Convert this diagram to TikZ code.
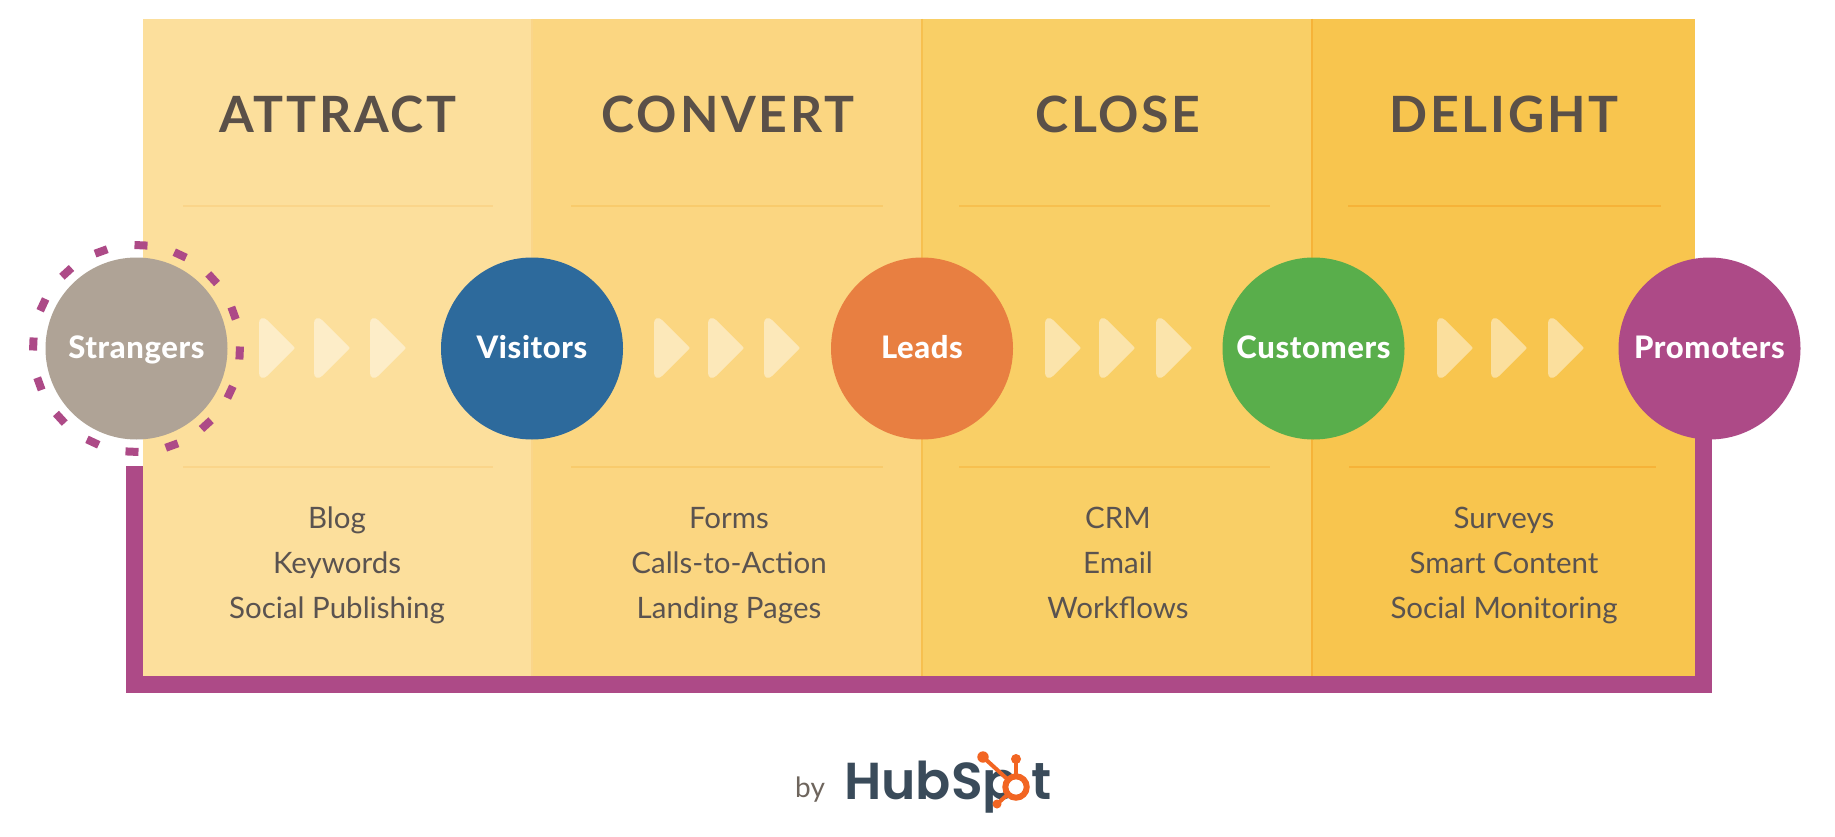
\documentclass[tikz,border=0pt]{standalone}
\usepackage{fontspec}
\setmainfont{Lato}
\newfontfamily\logofont{Poppins SemiBold}
\newfontfamily\headfont{Lato}[LetterSpace=5.5]
\newfontfamily\stagefont{Lato Heavy}[LetterSpace=2]
\usetikzlibrary{backgrounds}
\definecolor{panelA}{HTML}{FCDF9C}
\definecolor{panelB}{HTML}{FBD681}
\definecolor{panelC}{HTML}{F9CF66}
\definecolor{panelD}{HTML}{F8C54E}
\definecolor{ruleA}{HTML}{FAD58A}
\definecolor{ruleB}{HTML}{F8CB6C}
\definecolor{ruleC}{HTML}{F7C04F}
\definecolor{ruleD}{HTML}{F6B338}
\definecolor{plum}{HTML}{AD4A87}
\definecolor{stone}{HTML}{AFA396}
\definecolor{sea}{HTML}{2D6A9C}
\definecolor{tang}{HTML}{E87F41}
\definecolor{leaf}{HTML}{59AE4B}
\definecolor{headink}{HTML}{5A5048}
\definecolor{listink}{HTML}{5A5350}
\definecolor{hubink}{HTML}{3A4B5A}
\definecolor{huborange}{HTML}{F26522}
\definecolor{byink}{HTML}{6E655D}
\tikzset{
  x=1pt,y=-1pt,
  stage/.style={circle,minimum size=182pt,inner sep=0pt,text=white,text height=20pt,text depth=-2pt,font=\fontsize{31}{31}\selectfont\stagefont},
  heading/.style={anchor=base,inner sep=0pt,text=headink,font=\fontsize{50}{50}\selectfont\headfont\bfseries},
  item/.style={anchor=base,inner sep=0pt,text=listink,font=\fontsize{29.5}{29.5}\selectfont},
  panelrule/.style={line width=1.5pt},
  divider/.style={line width=1.2pt},
  chevshape/.style={fill=white,fill opacity=.45},
  logotext/.style={anchor=base west,inner sep=0pt,text=hubink,font=\fontsize{52}{52}\selectfont\logofont},
  sprocketarm/.style={huborange,line width=4pt},
}
\newcommand{\chevron}[1]{%
  \fill[chevshape,shift={(#1,0)}] (0,323) .. controls (0,318) and (4.5,316.5) .. (8,320)
    -- (34.5,346.5) .. controls (36,348) and (36,348) .. (34.5,349.5)
    -- (8,376) .. controls (4.5,379.5) and (0,378) .. (0,373) -- cycle;}
\begin{document}
\begin{tikzpicture}
\useasboundingbox (0,0) rectangle (1835,837);
% stages
\node[stage,fill=stone] (strangers) at (136.5,348.5) {Strangers};
\node[stage,fill=sea] (visitors) at (532,348.5) {Visitors};
\node[stage,fill=tang] (leads) at (922,348.5) {Leads};
\node[stage,fill=leaf] (customers) at (1313.5,348.5) {Customers};
\node[stage,fill=plum] (promoters) at (1709.5,348.5) {Promoters};
% dashed ring
\foreach \k in {0,...,15}{
  \pgfmathsetmacro{\angle}{-87.5+22.5*\k}
  \draw[plum,line width=8pt]
    ([shift={(\angle-3.6:103.5)}]strangers.center) -- ([shift={(\angle+3.6:103.5)}]strangers.center);
}
\begin{pgfonlayer}{background}
\fill[white] (0,0) rectangle (1835,837);
\fill[panelA] (143,19) rectangle (532,676);
\fill[panelB] (532,19) rectangle (922,676);
\fill[panelC] (922,19) rectangle (1312,676);
\fill[panelD] (1312,19) rectangle (1695,676);
\draw[ruleA,divider] (532,19) -- (532,676);
\draw[ruleC,divider] (922,19) -- (922,676);
\draw[ruleD,divider] (1312,19) -- (1312,676);
\foreach \a/\b/\c in {183/493/ruleA,571/883/ruleB,959/1270/ruleC,1348/1661/ruleD}{
  \draw[\c,panelrule] (\a,206) -- (\b,206);
}
\foreach \a/\b/\c in {183/493/ruleA,571/883/ruleB,959/1270/ruleC,1349/1656/ruleD}{
  \draw[\c,panelrule] (\a,467) -- (\b,467);
}
\foreach \x in {259,314,370,654,708,764,1045,1099,1156,1437,1491,1548}{\chevron{\x}}
\coordinate (loopend) at (134.5,466);
\draw[plum,line width=17pt,line join=miter] ([xshift=-6pt]promoters.center) -- ++(0,336) -| (loopend);
\end{pgfonlayer}
% headings
\node[heading] (hattract) at (338,132.3) {ATTRACT};
\node[heading] (hconvert) at (728,132.3) {CONVERT};
\node[heading] (hclose) at (1118,132.3) {CLOSE};
\node[heading] (hdelight) at (1504,132.3) {DELIGHT};
% lists
\node[item] (blog) at (337,528) {Blog};
\node[item] (keywords) at (337,573) {Keywords};
\node[item] (social) at (337,618) {Social Publishing};
\node[item] (forms) at (729,528) {Forms};
\node[item] (calls) at (729,573) {Calls-to-Action};
\node[item] (landing) at (729,618) {Landing Pages};
\node[item] (crm) at (1118,528) {CRM};
\node[item] (email) at (1118,573) {Email};
\node[item] (workflows) at (1118,618) {Workflows};
\node[item] (surveys) at (1504,528) {Surveys};
\node[item] (smart) at (1504,573) {Smart Content};
\node[item] (monitoring) at (1504,618) {Social Monitoring};
% byline and logo
\node[anchor=base west,inner sep=0pt,text=byink,font=\fontsize{28}{28}\selectfont] (by) at (795,797) {by};
\node[logotext] (hubsp) at (844,799) {HubSp};
\node[logotext] (hubt) at (1031,799) {t};
\coordinate (ringc) at (1016,787);
\coordinate (ballA) at (983,757);
\coordinate (ballB) at (1016,759);
\coordinate (ballC) at (997,804);
\draw[sprocketarm] (ballA) -- (ringc);
\draw[sprocketarm] (ballB) -- (ringc);
\draw[sprocketarm] (ballC) -- (ringc);
\fill[huborange] (ballA) circle[radius=5.7];
\fill[huborange] (ballB) circle[radius=5];
\fill[huborange] (ballC) circle[radius=4.5];
\fill[white] (ringc) circle[radius=8];
\draw[huborange,line width=6pt] (ringc) circle[radius=10.7];
\end{tikzpicture}
\end{document}
